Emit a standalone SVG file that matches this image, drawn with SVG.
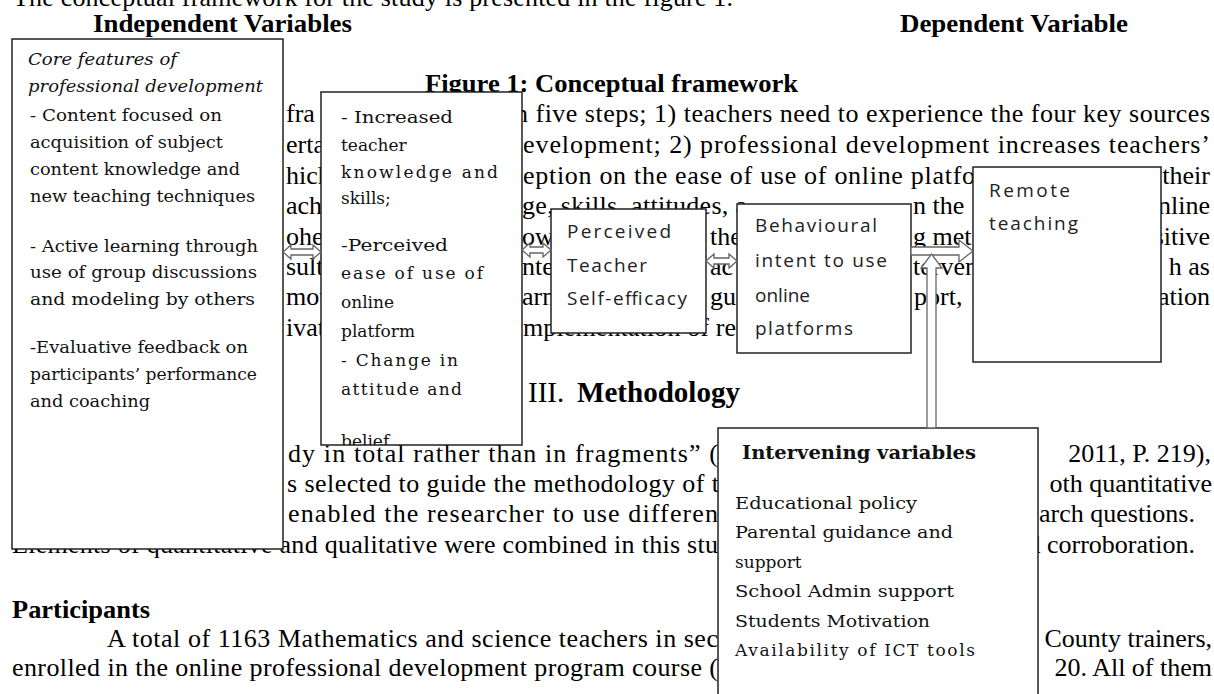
<svg xmlns="http://www.w3.org/2000/svg" width="1214" height="694" viewBox="0 0 1214 694">
<style>
.t{font-family:"Liberation Serif","Times New Roman",serif;font-size:26px;fill:#000}
.bd{font-weight:bold}
.h{font-size:29px}
.bx{font-family:"DejaVu Serif",serif;font-size:17px;fill:#111}
.it{font-style:italic}
.sa{font-family:"Open Sans","DejaVu Sans",sans-serif;font-size:19px;fill:#222}
.box{fill:#fff;stroke:#222;stroke-width:1.5}
.arr{fill:#fff;stroke:#666;stroke-width:1.3;stroke-linejoin:miter}
</style>
<defs>
<clipPath id="clipInc"><rect x="321" y="92" width="201" height="353"/></clipPath>
</defs>
<rect width="1214" height="694" fill="#fff"/>
<!-- page text behind the figure -->
<g id="page-text" class="t">
<text x="13" y="6" textLength="720" lengthAdjust="spacing">The conceptual framework for the study is presented in the figure 1.</text>
<text x="93" y="32" class="bd" textLength="259" lengthAdjust="spacingAndGlyphs">Independent Variables</text>
<text x="900" y="32" class="bd" textLength="228" lengthAdjust="spacingAndGlyphs">Dependent Variable</text>
<text x="425" y="92" class="bd" textLength="373" lengthAdjust="spacingAndGlyphs">Figure 1: Conceptual framework</text>
<text x="286" y="122">fra</text>
<text x="286" y="153">erta</text>
<text x="286" y="184">hich</text>
<text x="286" y="214">ach</text>
<text x="286" y="245">ohe</text>
<text x="286" y="275">sult</text>
<text x="286" y="305">mot</text>
<text x="286" y="336">ivat</text>
<text x="515" y="122" textLength="695" lengthAdjust="spacing">n five steps; 1) teachers need to experience the four key sources</text>
<text x="523" y="153" textLength="687" lengthAdjust="spacing">evelopment; 2) professional development increases teachers’</text>
<text x="523" y="184" textLength="452" lengthAdjust="spacing">eption on the ease of use of online platfo</text>
<text x="1210" y="184" text-anchor="end">their</text>
<text x="522" y="214" textLength="225" lengthAdjust="spacing">ge, skills, attitudes, a</text>
<text x="913" y="214">n the</text>
<text x="1210" y="214" text-anchor="end">nline</text>
<text x="522" y="245">ow</text>
<text x="710" y="245">the</text>
<text x="913" y="245">g met</text>
<text x="1210" y="245" text-anchor="end">sitive</text>
<text x="522" y="275">nte</text>
<text x="710" y="275">ac</text>
<text x="913" y="275">terven</text>
<text x="1210" y="275" text-anchor="end">h as</text>
<text x="522" y="305">arn</text>
<text x="710" y="305">gu</text>
<text x="914" y="305">port,</text>
<text x="1210" y="305" text-anchor="end">ation</text>
<text x="523" y="336" textLength="213" lengthAdjust="spacing">mplementation of re</text>
<text x="528" y="402" class="h">III.</text>
<text x="577" y="402" class="bd h" textLength="163" lengthAdjust="spacingAndGlyphs">Methodology</text>
<text x="288" y="462" textLength="430" lengthAdjust="spacing">dy in total rather than in fragments” (</text>
<text x="1211" y="462" text-anchor="end">2011, P. 219),</text>
<text x="287" y="492" textLength="432" lengthAdjust="spacing">s selected to guide the methodology of t</text>
<text x="1212" y="492" text-anchor="end">oth quantitative</text>
<text x="288" y="522" textLength="430" lengthAdjust="spacing">enabled the researcher to use differen</text>
<text x="1195" y="522" text-anchor="end">earch questions.</text>
<text x="12" y="553" textLength="706" lengthAdjust="spacing">Elements of quantitative and qualitative were combined in this stu</text>
<text x="1195" y="553" text-anchor="end">d corroboration.</text>
<text x="12" y="618" class="bd" textLength="138" lengthAdjust="spacingAndGlyphs">Participants</text>
<text x="107" y="647" textLength="611" lengthAdjust="spacing">A total of 1163 Mathematics and science teachers in sec</text>
<text x="1212" y="647" text-anchor="end">County trainers,</text>
<text x="12" y="676" textLength="706" lengthAdjust="spacing">enrolled in the online professional development program course (</text>
<text x="1212" y="676" text-anchor="end">20. All of them</text>
</g>
<!-- nodes -->
<g id="core">
<rect class="box" x="12" y="39" width="271" height="510"/>
<g class="bx">
<text x="28" y="65" class="it" textLength="149" lengthAdjust="spacingAndGlyphs">Core features of</text>
<text x="28" y="92" class="it" textLength="235" lengthAdjust="spacingAndGlyphs">professional development</text>
<text x="30" y="121" textLength="192" lengthAdjust="spacingAndGlyphs">- Content focused on</text>
<text x="30" y="148" textLength="193" lengthAdjust="spacingAndGlyphs">acquisition of subject</text>
<text x="30" y="175" textLength="210" lengthAdjust="spacingAndGlyphs">content knowledge and</text>
<text x="30" y="202" textLength="225" lengthAdjust="spacingAndGlyphs">new teaching techniques</text>
<text x="30" y="252" textLength="228" lengthAdjust="spacingAndGlyphs">- Active learning through</text>
<text x="30" y="278" textLength="227" lengthAdjust="spacingAndGlyphs">use of group discussions</text>
<text x="30" y="305" textLength="225" lengthAdjust="spacingAndGlyphs">and modeling by others</text>
<text x="30" y="353" textLength="218" lengthAdjust="spacingAndGlyphs">-Evaluative  feedback on</text>
<text x="30" y="380" textLength="227" lengthAdjust="spacingAndGlyphs">participants’ performance</text>
<text x="30" y="407" textLength="120" lengthAdjust="spacingAndGlyphs">and coaching</text>
</g>
</g>
<g id="outcomes">
<rect class="box" x="321" y="92" width="201" height="353"/>
<g class="bx" clip-path="url(#clipInc)">
<text x="341" y="123" textLength="112" lengthAdjust="spacingAndGlyphs">- Increased</text>
<text x="341" y="151">teacher</text>
<text x="341" y="178" textLength="157" lengthAdjust="spacing">knowledge  and</text>
<text x="341" y="204">skills;</text>
<text x="341" y="251" textLength="107" lengthAdjust="spacingAndGlyphs">-Perceived</text>
<text x="341" y="279" textLength="142" lengthAdjust="spacing">ease of use of</text>
<text x="341" y="308">online</text>
<text x="341" y="337">platform</text>
<text x="341" y="366" textLength="117" lengthAdjust="spacing">- Change in</text>
<text x="341" y="395" textLength="121" lengthAdjust="spacing">attitude  and</text>
<text x="341" y="447">belief</text>
</g>
</g>
<g id="efficacy">
<rect class="box" x="551" y="209" width="155" height="124"/>
<g class="sa">
<text x="567" y="238" textLength="104" lengthAdjust="spacing">Perceived</text>
<text x="567" y="272" textLength="80" lengthAdjust="spacing">Teacher</text>
<text x="567" y="305" textLength="120" lengthAdjust="spacing">Self-efficacy</text>
</g>
</g>
<g id="intent">
<rect class="box" x="737" y="204" width="174" height="149"/>
<g class="sa">
<text x="755" y="232" textLength="122" lengthAdjust="spacing">Behavioural</text>
<text x="755" y="267" textLength="132" lengthAdjust="spacing">intent to use</text>
<text x="755" y="302">online</text>
<text x="755" y="335" textLength="98" lengthAdjust="spacing">platforms</text>
</g>
</g>
<g id="remote">
<rect class="box" x="973" y="167" width="188" height="195"/>
<g class="sa">
<text x="989" y="197" textLength="81" lengthAdjust="spacing">Remote</text>
<text x="989" y="230" textLength="89" lengthAdjust="spacing">teaching</text>
</g>
</g>
<g id="intervening">
<rect class="box" x="718" y="428" width="320" height="280"/>
<g class="bx">
<text x="742" y="459" class="bd" style="font-size:18px" textLength="234" lengthAdjust="spacingAndGlyphs">Intervening variables</text>
<text x="735" y="509" textLength="182" lengthAdjust="spacingAndGlyphs">Educational policy</text>
<text x="735" y="538" textLength="218" lengthAdjust="spacingAndGlyphs">Parental guidance and</text>
<text x="735" y="568">support</text>
<text x="735" y="597" textLength="219" lengthAdjust="spacingAndGlyphs">School Admin support</text>
<text x="735" y="627" textLength="195" lengthAdjust="spacingAndGlyphs">Students Motivation</text>
<text x="735" y="656" textLength="240" lengthAdjust="spacing">Availability  of ICT tools</text>
</g>
</g>
<!-- connectors -->
<g id="connectors" class="arr">
<path d="M283,252 L291,245 V249 H313 V245 L321,252 L313,259 V255 H291 V259 Z"/>
<path d="M522,250 L530,243 V247 H543 V243 L551,250 L543,257 V253 H530 V257 Z"/>
<path d="M706,261 L714,254 V258 H729 V254 L737,261 L729,268 V264 H714 V268 Z"/>
<path d="M911,247 H959 V240 L973,251 L959,262 V255 H911 Z"/>
<path d="M927,428 V268 H921 L931.5,254 L942,268 H936 V428 Z"/>
</g>
</svg>
